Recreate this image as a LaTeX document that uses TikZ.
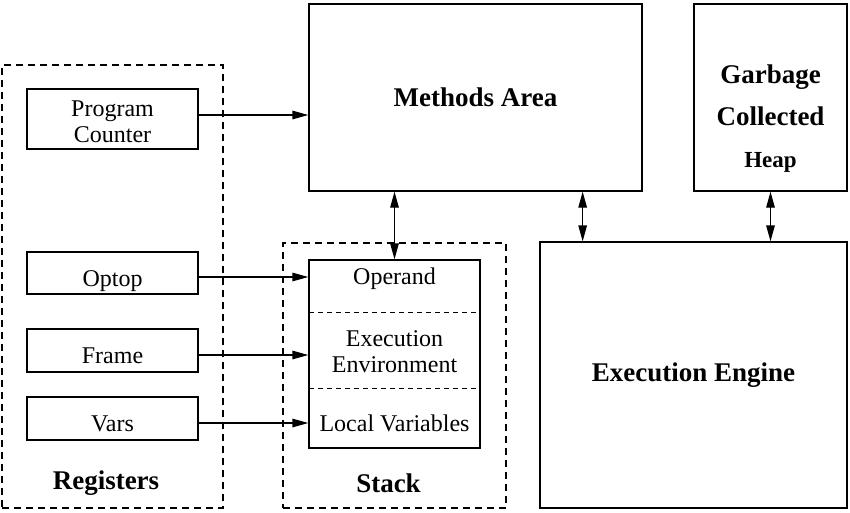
\documentclass[tikz,border=0pt]{standalone}
\usepackage{fontspec}
\setmainfont{Liberation Serif}
\usetikzlibrary{positioning,fit,arrows.meta}
\newcommand\regfont{\fontsize{24}{26}\selectfont}
\newcommand\titlefont{\fontsize{27}{30}\selectfont\bfseries}
\begin{document}
\begin{tikzpicture}[x=1pt,y=-1pt,line width=1.3pt,
>={Triangle[length=16pt,width=8.5pt]},
box/.style={
  draw,
  rectangle,
  inner sep=0pt,
  font=\regfont,
  align=center},
regbox/.style={box,minimum width=171pt,text height=28pt,text depth=2pt},
bigbox/.style={box,font=\titlefont},
dashbox/.style={draw,dash pattern=on 7pt off 5pt,inner sep=0pt},
cell/.style={inner sep=0pt,outer sep=0pt,minimum width=171pt},
celltext/.style={font=\regfont,align=center},
title/.style={font=\titlefont},
]
\useasboundingbox (0,0) rectangle (850,512);
% registers
\node[dashbox,minimum width=221pt,minimum height=443pt] (Reg) at (112.5,286.5) {};
\node[box,minimum width=171pt,minimum height=60pt,
  label={[celltext,yshift=-3pt]center:{Program\\Counter}}] (PC) at (112.5,119) {};
\node[regbox,minimum height=42pt] (Opt) at (112.5,273) {Optop};
\node[regbox,minimum height=43pt] (Fra) at (112.5,350.5) {Frame};
\node[regbox,minimum height=43pt] (Var) at (112.5,418.5) {Vars};
\node[title] (RegT) at (106,483) {Registers};
% stack
\node[dashbox,minimum width=223pt,minimum height=265pt] (Stk) at (394.5,375.5) {};
\node[cell,minimum height=52pt,label={[celltext,yshift=7pt]center:Operand}] (Ope) at (394.5,286) {};
\node[cell,minimum height=76pt,below=0pt of Ope,label={[celltext,yshift=-2pt]center:{Execution\\Environment}}] (Env) {};
\node[cell,minimum height=60pt,below=0pt of Env,label={[celltext,yshift=-5pt]center:Local Variables}] (Loc) {};
\node[draw,inner sep=0pt,fit=(Ope) (Loc)] (StB) {};
\draw[line width=1pt,dash pattern=on 5pt off 4pt] (Ope.south west) -- (Ope.south east);
\draw[line width=1pt,dash pattern=on 5pt off 4pt] (Env.south west) -- (Env.south east);
\node[title] (StkT) at (388.5,483) {Stack};
% areas
\node[bigbox,minimum width=333pt,minimum height=187pt] (MAr) at (475.5,97.5) {Methods Area};
\node[bigbox,minimum width=153pt,minimum height=187pt,
  label={[title,align=center,yshift=-21pt,font=\fontsize{27}{42}\selectfont\bfseries]center:{Garbage\\Collected\\{\fontsize{23}{42}\selectfont Heap}}}] (GCH) at (770.5,97.5) {};
\node[bigbox,minimum width=307pt,minimum height=266pt] (EEn) at (693.5,375) {Execution Engine};
% connectors
\draw[->] ([yshift=4pt]PC.east) -- ([yshift=4pt]PC.east -| MAr.west);
\draw[->] ([yshift=-4pt]Opt.east) -- ([yshift=-4pt]Opt.east -| StB.west);
\draw[->] ([yshift=-4.5pt]Fra.east) -- ([yshift=-4.5pt]Fra.east -| StB.west);
\draw[->] ([yshift=-4.5pt]Var.east) -- ([yshift=-4.5pt]Var.east -| StB.west);
\draw[<->] (MAr.south -| StB.north) -- (StB.north);
\draw[<->] ([xshift=-60pt]MAr.south east) -- ([xshift=-60pt]MAr.south east |- EEn.north);
\draw[<->] (GCH.south) -- (GCH.south |- EEn.north);
\end{tikzpicture}
\end{document}
